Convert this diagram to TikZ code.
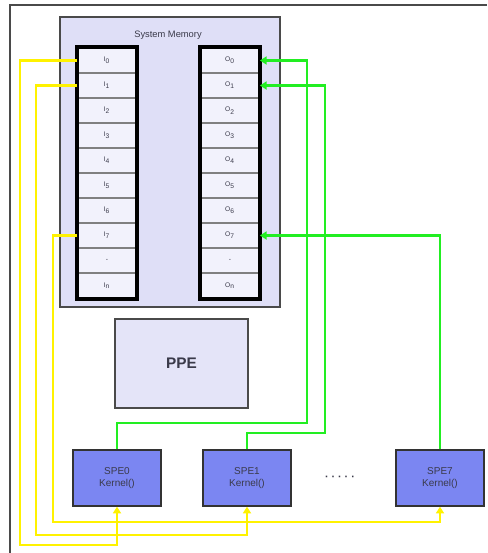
\documentclass[tikz,border=0pt]{standalone}
\usepackage{fontspec}
\setmainfont{Liberation Sans}
\setsansfont{Liberation Sans}
\usepackage{xcolor}
\usepackage{tikz}
\usetikzlibrary{positioning, arrows.meta}
\definecolor{cbFrame}{HTML}{4A4A4A}
\definecolor{cbMem}{HTML}{DFDFF7}
\definecolor{cbCell}{HTML}{F2F2FC}
\definecolor{cbPpe}{HTML}{E4E4F8}
\definecolor{cbSpe}{HTML}{7B86F2}
\definecolor{cbText}{HTML}{3A3A4A}
\definecolor{cbGreen}{HTML}{22EE22}
\definecolor{cbYellow}{HTML}{FFF200}

\begin{document}
\begin{tikzpicture}[x=0.75pt, y=-0.75pt, font=\sffamily,
  membox/.style={draw=cbFrame, line width=1.2pt, fill=cbMem, inner sep=0pt},
  cell/.style={draw=gray, line width=1.4pt, fill=cbCell, minimum width=43.5pt,
    minimum height=18.75pt, inner sep=0pt, text=cbText, font=\sffamily\fontsize{5}{6}\selectfont},
  colframe/.style={draw=black, line width=2.4pt},
  ppebox/.style={draw=cbFrame, line width=1pt, fill=cbPpe, minimum width=99.75pt,
    minimum height=66.75pt, font=\sffamily\bfseries\fontsize{11.5}{14}\selectfont, text=cbText},
  spebox/.style={draw=black!80, line width=1pt, fill=cbSpe, minimum width=66pt,
    minimum height=42pt, align=center, text=cbText, font=\sffamily\fontsize{7.5}{9}\selectfont},
  gline/.style={draw=cbGreen, line width=2.1pt, -{Triangle[width=6pt,length=5pt]}},
  yline/.style={draw=cbYellow, line width=2.1pt, -{Triangle[width=6pt,length=5pt]}}]
  \useasboundingbox (0,0) rectangle (487,553);
  % outer frame
  \draw[cbFrame, line width=1.3pt] (487,5) -| (10,553);
  % system memory
  \node[membox, minimum width=165pt, minimum height=217.5pt] (mem) at (170,162) {};
  \node[text=cbText, font=\sffamily\fontsize{7}{8}\selectfont] (memtitle) at (168,35) {System Memory};
  \foreach \k in {0,...,7} {
    \node[cell] (I\k) at (107,{60.5+25*\k}) {I\textsubscript{\k}};
    \node[cell] (O\k) at (230,{60.5+25*\k}) {O\textsubscript{\k}};
  }
  \node[cell] (I8) at (107,260.5) {-};
  \node[cell] (O8) at (230,260.5) {-};
  \node[cell] (I9) at (107,285.5) {I\textsubscript{n}};
  \node[cell] (O9) at (230,285.5) {O\textsubscript{n}};
  \draw[colframe] (I0.north west) rectangle (I9.south east);
  \draw[colframe] (O0.north west) rectangle (O9.south east);
  % processors
  \node[ppebox] (ppe) at (181.5,363.5) {PPE};
  \node[spebox] (spe0) at (117,478) {SPE0\\Kernel()};
  \node[spebox] (spe1) at (247,478) {SPE1\\Kernel()};
  \node[spebox] (spe7) at (440,478) {SPE7\\Kernel()};
  \node[text=cbText, font=\sffamily\bfseries\fontsize{8}{9}\selectfont] (dots) at (340,478) {· · · · ·};
  % outputs back to memory
  \draw[gline] (spe0.north) |- (307,423) |- (O0.east);
  \draw[gline] (spe1.north) |- (325,433) |- (O1.east);
  \draw[gline] (spe7.north) |- (O7.east);
  % inputs to kernels
  \draw[yline] (I0.west) -| (20,545) -| (spe0.south);
  \draw[yline] (I1.west) -| (36,535) -| (spe1.south);
  \draw[yline] (I7.west) -| (53,522) -| (spe7.south);
\end{tikzpicture}
\end{document}
